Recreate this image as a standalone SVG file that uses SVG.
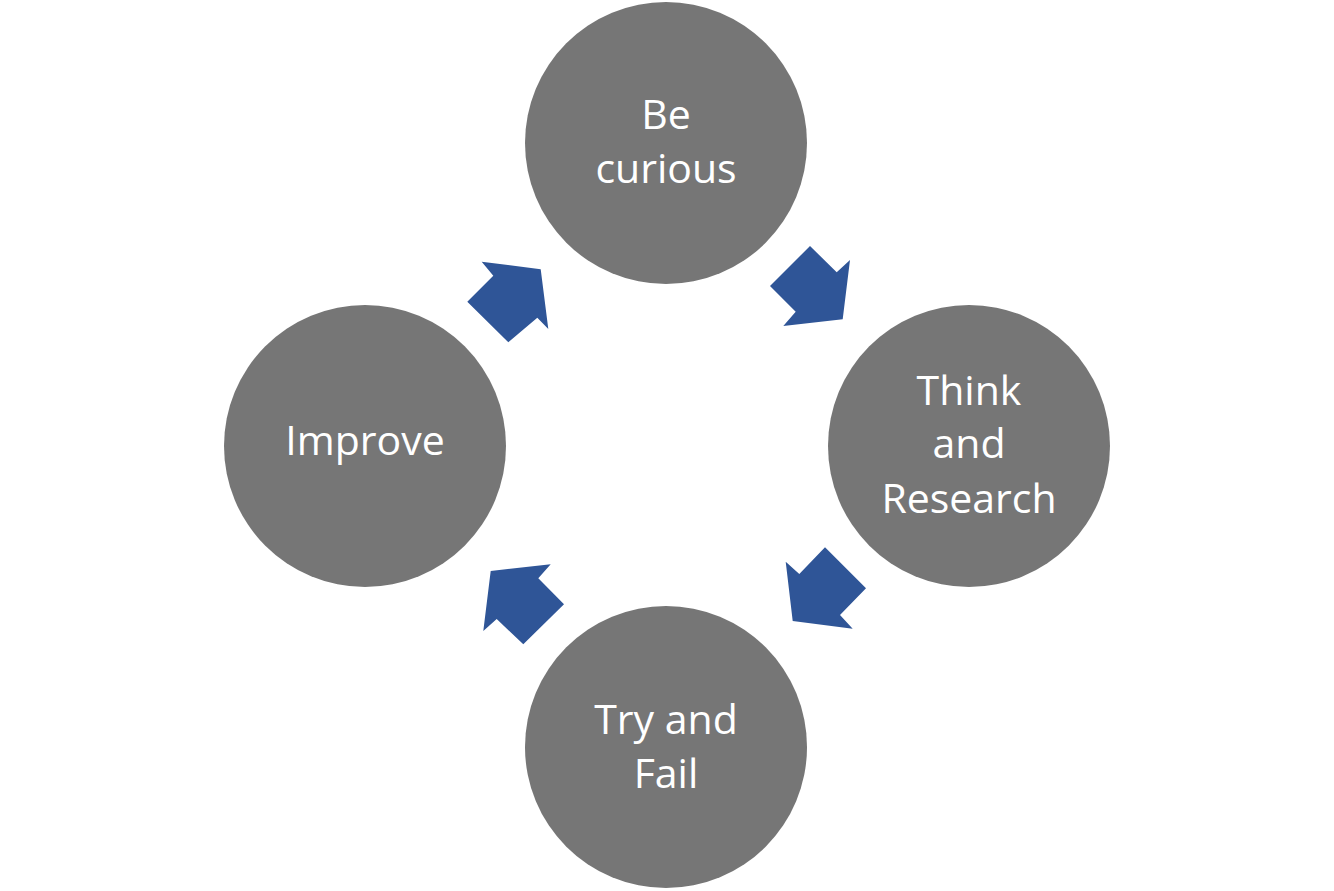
<svg xmlns="http://www.w3.org/2000/svg" width="1334" height="891" viewBox="0 0 1334 891">
<style>
.node{fill:#767676;}
.lbl{fill:#ffffff;font-family:"Open Sans","Liberation Sans",sans-serif;font-size:41px;text-anchor:middle;}
.arrow{fill:#2F5597;}
</style>
<rect width="1334" height="891" fill="#ffffff"/>
<g id="connectors">
<polygon class="arrow" points="810,246 836.7,272.3 850,260 842.7,319.3 783.3,326 795.7,311.7 770,286"/>
<polygon class="arrow" points="825,547.3 866,588.3 840,615 852.7,628.7 792.7,621 785.7,561.7 799.3,574"/>
<polygon class="arrow" points="550.7,564.3 490.7,571 483.3,631 496.7,619 523.3,644.3 564,604.3 538.3,578.3"/>
<polygon class="arrow" points="481.7,261.7 540.7,269.3 548.3,329 537.3,317.7 508.3,342.3 467.3,301.7 493.3,275.7"/>
</g>
<g id="node-curious">
<circle class="node" cx="666" cy="143" r="141"/>
<text class="lbl" x="666" y="129">Be</text>
<text class="lbl" x="666" y="183">curious</text>
</g>
<g id="node-think">
<circle class="node" cx="969" cy="446" r="141"/>
<text class="lbl" x="969" y="405">Think</text>
<text class="lbl" x="969" y="458">and</text>
<text class="lbl" x="969" y="513">Research</text>
</g>
<g id="node-try">
<circle class="node" cx="666" cy="747" r="141"/>
<text class="lbl" x="666" y="734">Try and</text>
<text class="lbl" x="666" y="788">Fail</text>
</g>
<g id="node-improve">
<circle class="node" cx="365" cy="446" r="141"/>
<text class="lbl" x="365" y="455">Improve</text>
</g>
</svg>
